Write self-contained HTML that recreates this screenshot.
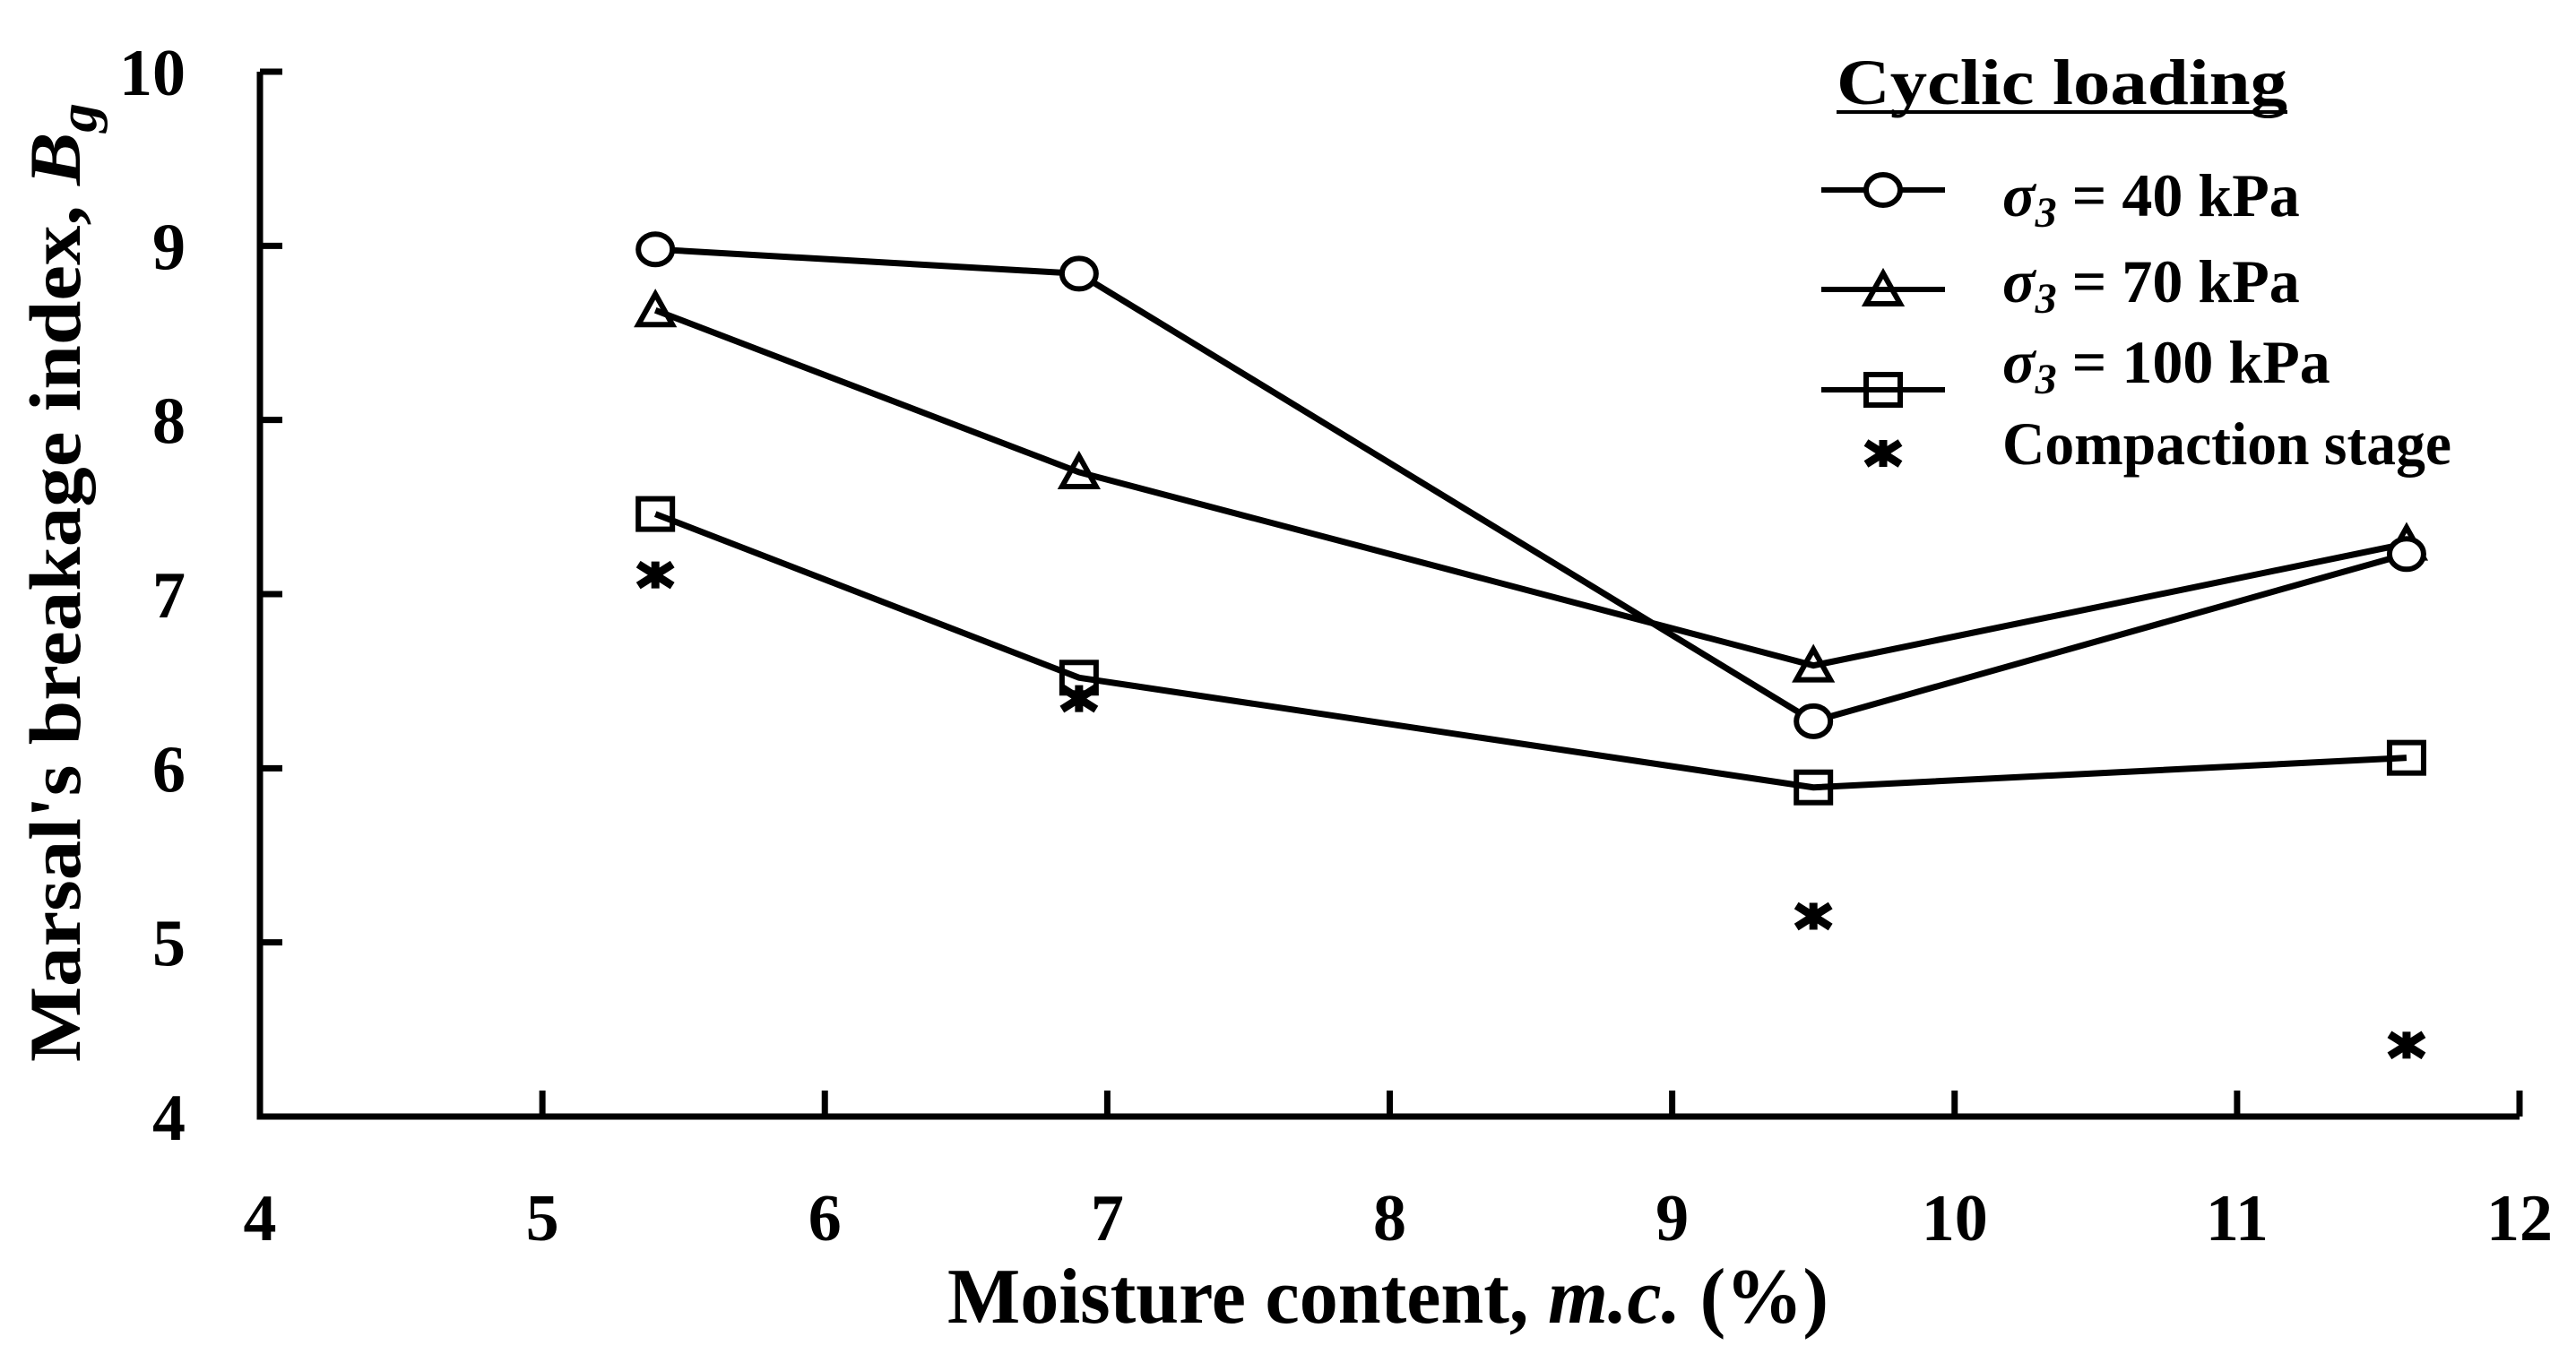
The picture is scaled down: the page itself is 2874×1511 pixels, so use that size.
<!DOCTYPE html>
<html><head><meta charset="utf-8"><style>html,body{margin:0;padding:0;background:#fff}svg{display:block}</style></head>
<body>
<svg id="chart" width="2874" height="1511" viewBox="0 0 2874 1511" xmlns="http://www.w3.org/2000/svg" font-family="'Liberation Serif', serif">
<g id="plot"></g>
<text x="1057" y="1476" font-size="88" font-weight="bold" textLength="983" lengthAdjust="spacingAndGlyphs">Moisture content, <tspan font-style="italic">m.c.</tspan> (%)</text>
<text transform="translate(89,1185) rotate(-90)" font-size="82" font-weight="bold" textLength="1070" lengthAdjust="spacingAndGlyphs">Marsal's breakage index, <tspan font-style="italic">B</tspan><tspan font-style="italic" dy="18" font-size="60">g</tspan></text>
<g font-weight="bold">
<text x="2049" y="116" font-size="72" textLength="503" lengthAdjust="spacingAndGlyphs">Cyclic loading</text>
<line x1="2049" y1="125" x2="2552" y2="125" stroke="#000" stroke-width="4"/>
<g id="legend-items"></g>
</g>
</svg>
<script>
const xTicks = [4,5,6,7,8,9,10,11,12];
const yTicks = [4,5,6,7,8,9,10];
const moisture = [5.4, 6.9, 9.5, 11.6];
const s40 = [8.98, 8.84, 6.27, 7.23];
const s70 = [8.63, 7.70, 6.59, 7.29];
const s100 = [7.46, 6.52, 5.89, 6.06];
const compaction = [7.11, 6.40, 5.15, 4.41];
const legendLabels = ["40 kPa","70 kPa","100 kPa","Compaction stage"];

const NS="http://www.w3.org/2000/svg";
const X0=290,X1=2811,Y0=1246,Y1=80;
function xs(v){return X0+(v-4)/(12-4)*(X1-X0);}
function ys(v){return Y0-(v-4)/(10-4)*(Y0-Y1);}
const plot=document.getElementById('plot');
function mk(tag,attrs,parent){const e=document.createElementNS(NS,tag);for(const k in attrs)e.setAttribute(k,attrs[k]);(parent||plot).appendChild(e);return e;}

let ax=mk('path',{d:`M${X0},${Y1} V${Y0} H${X1}`,fill:'none',stroke:'#000','stroke-width':7});


xTicks.forEach(t=>{
  const x=xs(t);
  if(t>4){let tk=mk('line',{x1:x,y1:Y0,x2:x,y2:Y0-29,stroke:'#000','stroke-width':7});
  
  }
  let lb=mk('text',{x:x,y:1384,'font-size':74,'font-weight':'bold','text-anchor':'middle'});
  lb.textContent=t;
  
  
});
yTicks.forEach(t=>{
  const y=ys(t);
  let tk=mk('line',{x1:X0,y1:y,x2:X0+25,y2:y,stroke:'#000','stroke-width':7});
  
  
  let lb=mk('text',{x:207,y:y+26,'font-size':74,'font-weight':'bold','text-anchor':'end'});
  lb.textContent=t;
  
  
});

function marker(type,cx,cy,parent){
  let e;
  if(type==='circle') e=mk('ellipse',{cx:cx,cy:cy,rx:19,ry:17,fill:'#fff',stroke:'#000','stroke-width':6},parent);
  else if(type==='tri') e=mk('path',{d:`M${cx},${cy-18} L${cx+19},${cy+16} L${cx-19},${cy+16} Z`,fill:'none',stroke:'#000','stroke-width':6},parent);
  else if(type==='square') e=mk('rect',{x:cx-19,y:cy-17,width:38,height:34,fill:'none',stroke:'#000','stroke-width':6},parent);
  else e=mk('path',{d:`M${cx-19},${cy-12} L${cx+19},${cy+12} M${cx-19},${cy+12} L${cx+19},${cy-12} M${cx},${cy-15} V${cy+15}`,fill:'none',stroke:'#000','stroke-width':9},parent);
  return e;
}
const series=[[s70,'tri','sigma-70'],[s100,'square','sigma-100'],[s40,'circle','sigma-40']];
series.forEach(([vals,type,name])=>{
  let l=mk('polyline',{points:moisture.map((m,i)=>xs(m)+','+ys(vals[i])).join(' '),fill:'none',stroke:'#000','stroke-width':7});
  
  
  vals.forEach((v,i)=>{
    let m=marker(type,xs(moisture[i]),ys(v));
    
    
  });
});
compaction.forEach((v,i)=>{
  let m=marker('star',xs(moisture[i]),ys(v));
  
  
});

const lg=document.getElementById('legend-items');
const lys=[212,323,435,506], tys=[241,337,427,518], types=['circle','tri','square','star'];
types.forEach((t,i)=>{
  if(t!=='star'){let ln=mk('line',{x1:2032,y1:lys[i],x2:2170,y2:lys[i],stroke:'#000','stroke-width':6},lg);
  
  }
  let m=marker(t,2101,lys[i],lg);
  
  
  let tx=mk('text',{x:2234,y:tys[i],'font-size':68},lg);
  if(t!=='star'){
    tx.innerHTML='<tspan font-style="italic">σ</tspan><tspan font-style="italic" font-size="48" dy="12">3</tspan><tspan dy="-12"> = '+legendLabels[i]+'</tspan>';
  } else {tx.textContent=legendLabels[i]; tx.setAttribute('textLength','501'); tx.setAttribute('lengthAdjust','spacingAndGlyphs');}
  
  
});
</script>
</body></html>
